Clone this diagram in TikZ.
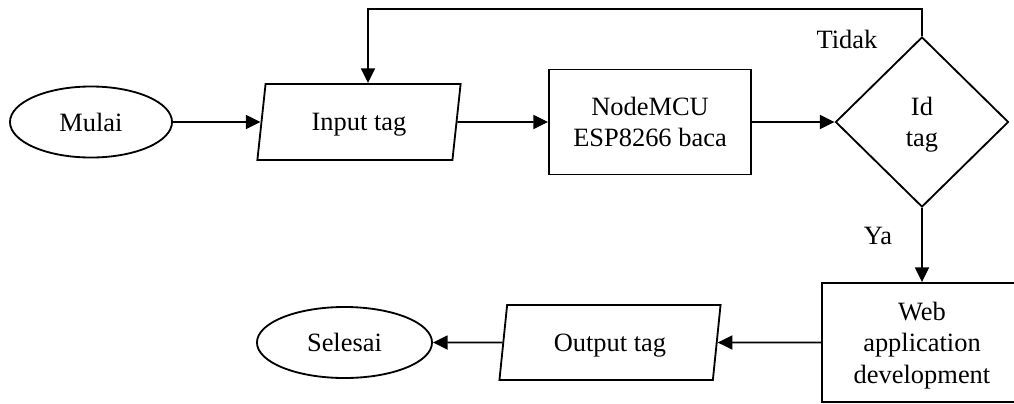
\documentclass[tikz,border=0pt]{standalone}
\usepackage{fontspec}
\setmainfont{Liberation Serif}
\usetikzlibrary{shapes.geometric, arrows.meta, positioning}

\begin{document}
\begin{tikzpicture}[x=0.025cm, y=-0.025cm,
  line width=1.3pt,
  every node/.style={font=\fontsize{18.8}{22.5}\selectfont, align=center, inner sep=0pt, text depth=0pt},
  arr/.style={-{Triangle[length=3.7mm, width=3.5mm]}},
  oval/.style={draw, ellipse, minimum width=#1, minimum height=1.775cm},
  iobox/.style={draw, trapezium, trapezium stretches=true, trapezium left angle=76.5, trapezium right angle=103.5, minimum width=#1, minimum height=1.9cm},
  procbox/.style={draw, rectangle, minimum width=5.05cm, minimum height=2.625cm},
  decbox/.style={draw, diamond, minimum width=4.325cm, minimum height=4.25cm}
]
  \useasboundingbox (0,0) rectangle (1014,403);

  % top row
  \node[oval=4.05cm] (mulai) at (91,122) {Mulai};
  \node[iobox=5.1cm] (input) at (359,122) {Input tag};
  \node[procbox] (baca) at (650,122) {NodeMCU\\ESP8266 baca};
  \node[decbox] (idtag) at (922,122) {Id\\tag};

  % bottom row
  \node[procbox, minimum width=5cm, minimum height=2.975cm] (web) at (922,342.5) {Web\\application\\development};
  \node[iobox=5.55cm, minimum height=1.875cm] (output) at (610,342.5) {Output tag};
  \node[oval=4.375cm] (selesai) at (344.5,342.5) {Selesai};

  \node (tidak) at (847,39) {Tidak};
  \node (ya) at (878,236) {Ya};
  \coordinate (back) at (368,9);

  \draw[arr] (mulai) -- (input);
  \draw[arr] (input) -- (baca);
  \draw[arr] (baca) -- (idtag);
  \draw[arr] (idtag.north) |- (back) -- (back |- input.north);
  \draw[arr] (idtag) -- (web);
  \draw[arr] (web) -- (output);
  \draw[arr] (output) -- (selesai);
\end{tikzpicture}
\end{document}
